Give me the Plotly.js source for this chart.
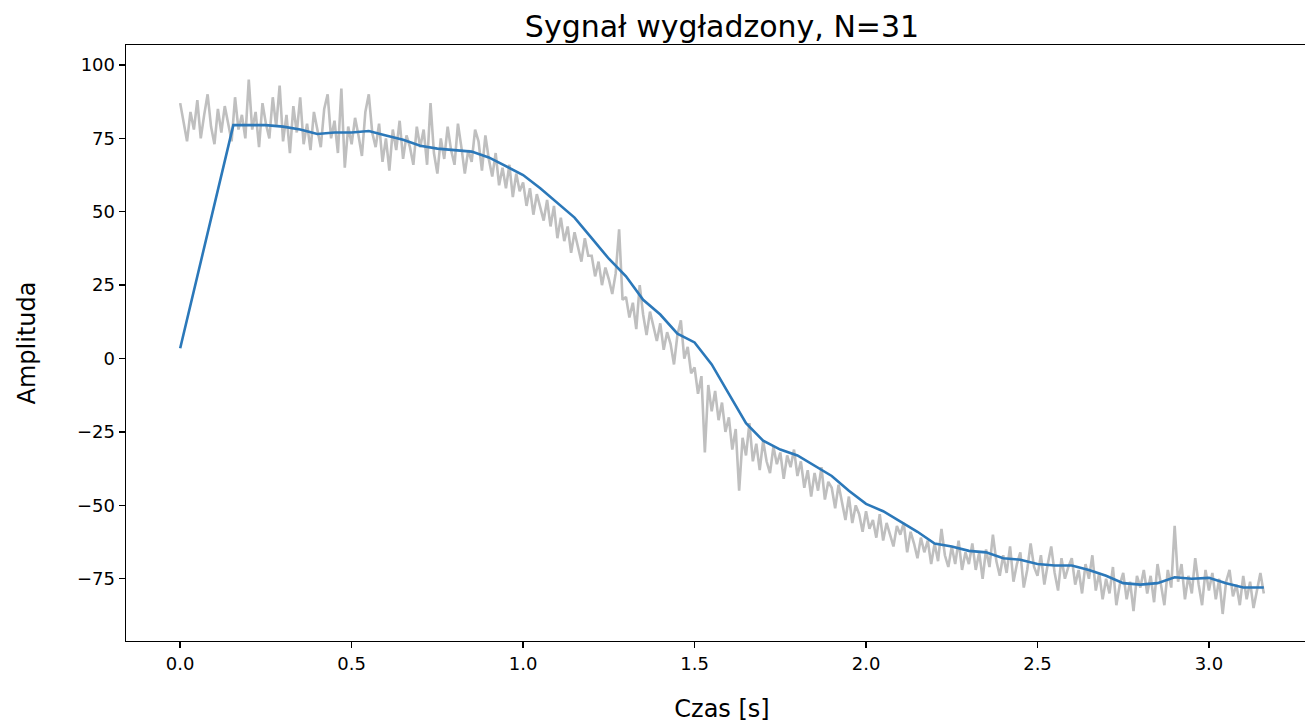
<!DOCTYPE html>
<html>
<head>
<meta charset="utf-8">
<script src="https://cdn.plot.ly/plotly-3.0.1.min.js"></script>
<style>
  html, body { margin: 0; padding: 0; overflow: hidden; background: #fff; }
  #chart { width: 1320px; height: 723px; }
</style>
</head>
<body>
<div id="chart"></div>
<script>
// Noisy signal, sampled every 0.01 s starting at t = 0
const noisyStart = 0;
const noisyStep = 0.01;
const noisyValues = [
  87, 81, 74, 84, 78, 88, 75, 83, 90, 79,
  73, 85, 77, 86, 80, 74, 89, 78, 83, 75,
  95, 78, 84, 72, 87, 80, 75, 89, 79, 93,
  74, 83, 70, 86, 77, 89, 73, 80, 71, 84,
  78, 72, 85, 90, 75, 81, 70, 92, 65, 79,
  73, 82, 76, 69, 84, 90, 77, 72, 80, 67,
  75, 64, 78, 71, 81, 68, 76, 72, 66, 79,
  72, 78, 66, 87, 70, 63, 75, 68, 79, 71,
  66, 80, 72, 63, 71, 67, 78, 74, 64, 76,
  68, 62, 70, 59, 65, 58, 66, 55, 63, 57,
  60, 52, 58, 49, 56, 51, 47, 54, 45, 52,
  41, 48, 40, 45, 36, 43, 38, 33, 41, 35,
  35, 28, 33, 25, 31, 27, 22, 29, 44, 20,
  21, 14, 19, 10, 25, 15, 8, 16, 11, 6,
  12, 3, 9, 5, -2, 8, 13, 0, 4, -5,
  -3, -12, -6, -32, -9, -18, -11, -21, -15, -25,
  -20, -31, -24, -45, -27, -33, -22, -35, -29, -38,
  -28, -35, -39, -30, -36, -32, -41, -33, -37, -31,
  -40, -35, -44, -38, -47, -39, -45, -37, -48, -42,
  -44, -51, -43, -49, -55, -47, -56, -50, -53, -59,
  -52, -58, -55, -61, -53, -62, -56, -60, -64, -57,
  -60, -56, -66, -59, -63, -68, -61, -66, -62, -70,
  -63, -69, -58, -67, -71, -64, -70, -62, -72, -66,
  -70, -63, -72, -66, -75, -65, -71, -60, -69, -74,
  -67, -73, -64, -76, -70, -66, -78, -72, -63, -71,
  -74, -67, -77, -70, -64, -73, -79, -68, -75, -71,
  -68, -77, -72, -80, -70, -75, -67, -79, -73, -82,
  -75, -80, -71, -84, -77, -73, -82, -76, -86, -74,
  -78, -72, -80, -74, -83, -70, -77, -84, -72, -78,
  -57, -76, -70, -82, -74, -80, -68, -77, -84, -72,
  -79, -73, -82, -75, -87, -76, -72, -81, -77, -84,
  -74, -82, -76, -85, -79, -73, -80
];

// Smoothed signal (moving average, N=31)
const smoothTimes = [0, 0.155, 0.2, 0.25, 0.3, 0.35, 0.4, 0.45, 0.5, 0.55, 0.6, 0.65, 0.7, 0.75, 0.8, 0.85, 0.9, 0.95, 1.0, 1.05, 1.1, 1.15, 1.2, 1.25, 1.3, 1.35, 1.4, 1.45, 1.5, 1.55, 1.6, 1.65, 1.7, 1.75, 1.8, 1.85, 1.9, 1.95, 2.0, 2.05, 2.1, 2.15, 2.2, 2.25, 2.3, 2.35, 2.4, 2.45, 2.5, 2.55, 2.6, 2.65, 2.7, 2.75, 2.8, 2.85, 2.9, 2.95, 3.0, 3.05, 3.1, 3.16];
const smoothValues = [3.5, 79.5, 79.5, 79.5, 79, 78, 76.5, 77, 77, 77.5, 76, 74.5, 72.5, 71.5, 71, 70.5, 68.5, 65.5, 62.5, 58, 53, 48, 41, 34, 28, 20, 15, 8.5, 5.5, -2, -12, -22, -28, -31, -33, -36.5, -40, -45, -49.5, -52, -55.5, -59, -63, -64, -65.5, -66, -68, -68.5, -70, -70.5, -70.5, -72, -74, -76.5, -77, -76.5, -74.5, -75, -74.7, -76.5, -78, -78];

// Tick labels
const xTickVals = [0, 0.5, 1.0, 1.5, 2.0, 2.5, 3.0];
const xTickText = ["0.0", "0.5", "1.0", "1.5", "2.0", "2.5", "3.0"];
const yTickVals = [-75, -50, -25, 0, 25, 50, 75, 100];
const yTickText = ["\u221275", "\u221250", "\u221225", "0", "25", "50", "75", "100"];

const titleText = "Sygnał wygładzony, N=31";
const xLabel = "Czas [s]";
const yLabel = "Amplituda";

const FONT = "DejaVu Sans, sans-serif";

const traces = [
  {
    type: "scatter", mode: "lines",
    x0: noisyStart, dx: noisyStep, y: noisyValues,
    line: { color: "#bfbfbf", width: 2.6 },
    hoverinfo: "skip"
  },
  {
    type: "scatter", mode: "lines",
    x: smoothTimes, y: smoothValues,
    line: { color: "#2b78b9", width: 2.6 },
    hoverinfo: "skip"
  }
];

const axisCommon = {
  showgrid: false, zeroline: false,
  showline: true, linecolor: "#000", linewidth: 1.4, mirror: true,
  ticks: "outside", ticklen: 6, tickwidth: 1.4, tickcolor: "#000",
  tickfont: { family: FONT, size: 18, color: "#000" },
  tickmode: "array"
};

const layout = {
  width: 1320, height: 723,
  margin: { l: 126, r: 2, t: 45, b: 82 },
  paper_bgcolor: "#fff", plot_bgcolor: "#fff",
  showlegend: false,
  font: { family: FONT, color: "#000" },
  title: {
    text: titleText,
    font: { family: FONT, size: 30, color: "#000" },
    xref: "paper", x: 0.5, xanchor: "center",
    yref: "paper", y: 1, yanchor: "bottom",
    pad: { b: 8 }
  },
  xaxis: Object.assign({}, axisCommon, {
    range: [-0.158, 3.318],
    tickvals: xTickVals, ticktext: xTickText,
    title: { text: xLabel, font: { family: FONT, size: 24, color: "#000" }, standoff: 27 }
  }),
  yaxis: Object.assign({}, axisCommon, {
    range: [-96.2, 106.8],
    tickvals: yTickVals, ticktext: yTickText,
    title: { text: yLabel, font: { family: FONT, size: 24, color: "#000" }, standoff: 34 }
  })
};

Plotly.newPlot("chart", traces, layout, { staticPlot: true, displayModeBar: false });
</script>
</body>
</html>
